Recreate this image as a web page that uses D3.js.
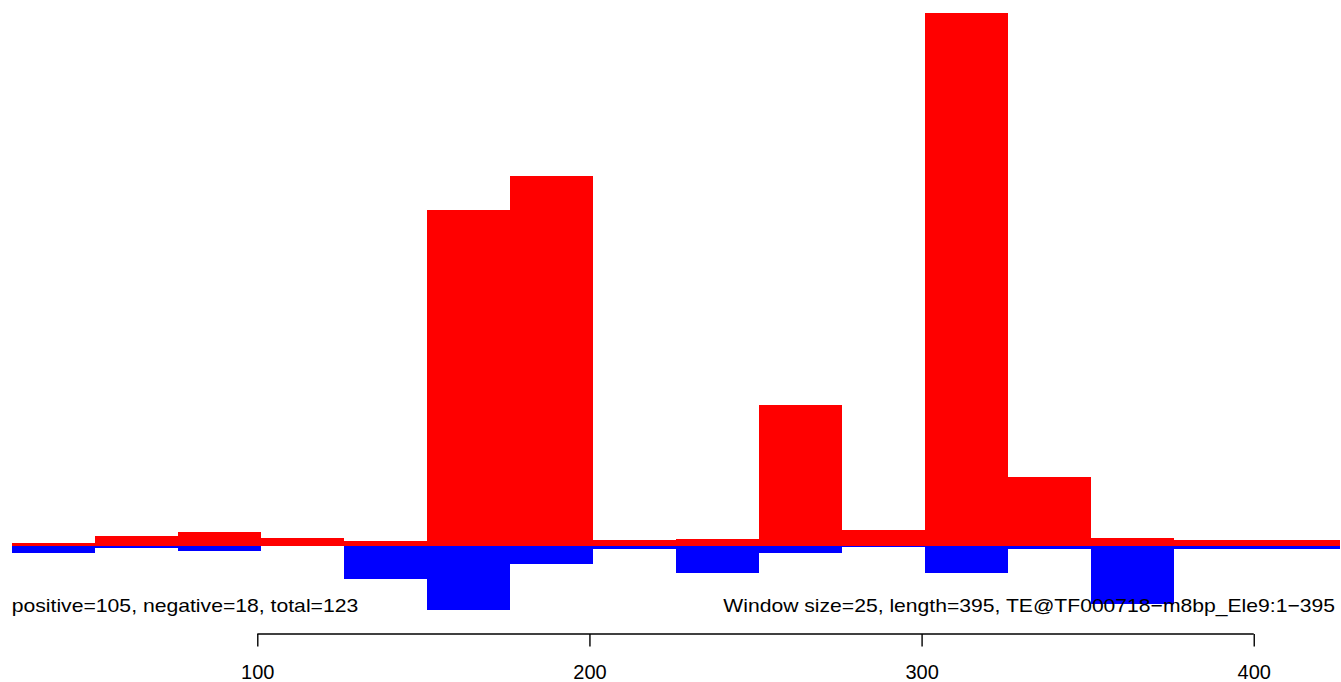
<!DOCTYPE html>
<html>
<head>
<meta charset="utf-8">
<script src="https://cdn.jsdelivr.net/npm/d3@7"></script>
<style>
  html, body { margin: 0; padding: 0; background: #fff; }
  svg { display: block; }
  text { font-family: "Liberation Sans", Arial, Helvetica, sans-serif; fill: #000; }
</style>
</head>
<body>
<svg id="chart" width="1341" height="682"></svg>
<script>
// window starts (each window spans 25 positions)
const windowStarts = [26, 51, 76, 101, 126, 151, 176, 201, 226, 251, 276, 301, 326, 351, 376, 401];
const windowSize = 25;
// positive-strand coverage per window
const positiveValues = [0.17, 0.68, 0.95, 0.51, 0.34, 22.82, 25.17, 0.37, 0.44, 9.56, 1.05, 36.22, 4.66, 0.51, 0.37, 0.37];
// negative-strand coverage per window
const negativeValues = [0.48, 0.14, 0.37, 0.0, 2.31, 4.42, 1.29, 0.24, 1.90, 0.54, 0.07, 1.84, 0.24, 3.95, 0.24, 0.24];
const tickValues = [100, 200, 300, 400];
const leftLabel = "positive=105, negative=18, total=123";
const rightLabel = "Window size=25, length=395, TE@TF000718\u2212m8bp_Ele9:1\u2212395";

const svg = d3.select("#chart");

const x = d3.scaleLinear().domain([26, 426]).range([11.5, 1340.1]);
const y = d3.scaleLinear().domain([0, 37]).range([545.5, 1.6]);

const data = windowStarts.map((s, i) => ({ start: s, pos: positiveValues[i], neg: negativeValues[i] }));

// positive bars (red, upwards)
svg.append("g").selectAll("rect").data(data).join("rect")
  .attr("x", d => x(d.start))
  .attr("width", d => x(d.start + windowSize) - x(d.start))
  .attr("y", d => y(d.pos))
  .attr("height", d => y(0) - y(d.pos))
  .attr("fill", "#ff0000")
  .attr("shape-rendering", "crispEdges");

// negative bars (blue, downwards)
svg.append("g").selectAll("rect").data(data).join("rect")
  .attr("x", d => x(d.start))
  .attr("width", d => x(d.start + windowSize) - x(d.start))
  .attr("y", y(0))
  .attr("height", d => y(-d.neg) - y(0))
  .attr("fill", "#0000ff")
  .attr("shape-rendering", "crispEdges");

// bottom axis (R style: line spans only first..last tick)
const axisY = 634;
const axisG = svg.append("g").attr("transform", `translate(0,${axisY})`)
  .call(d3.axisBottom(x).tickValues(tickValues).tickSize(12.5).tickSizeOuter(0).tickPadding(19));
axisG.select(".domain").remove();
axisG.append("line")
  .attr("x1", x(tickValues[0])).attr("x2", x(tickValues[tickValues.length - 1]))
  .attr("y1", 0).attr("y2", 0)
  .attr("stroke", "#000").attr("stroke-width", 1.4);
axisG.selectAll(".tick line").attr("stroke", "#000").attr("stroke-width", 1.4);
axisG.selectAll(".tick text")
  .style("font-family", "'Liberation Sans', Arial, sans-serif")
  .style("font-size", "20px")
  .attr("fill", "#000")
  .attr("dy", "0.69em");

// annotation texts
svg.append("text")
  .attr("x", 11.7).attr("y", 611.5)
  .attr("textLength", 346.6).attr("lengthAdjust", "spacingAndGlyphs")
  .style("font-size", "18.6px")
  .text(leftLabel);

svg.append("text")
  .attr("x", 723.3).attr("y", 611.5)
  .attr("textLength", 611.7).attr("lengthAdjust", "spacingAndGlyphs")
  .style("font-size", "18.6px")
  .text(rightLabel);
</script>
</body>
</html>
